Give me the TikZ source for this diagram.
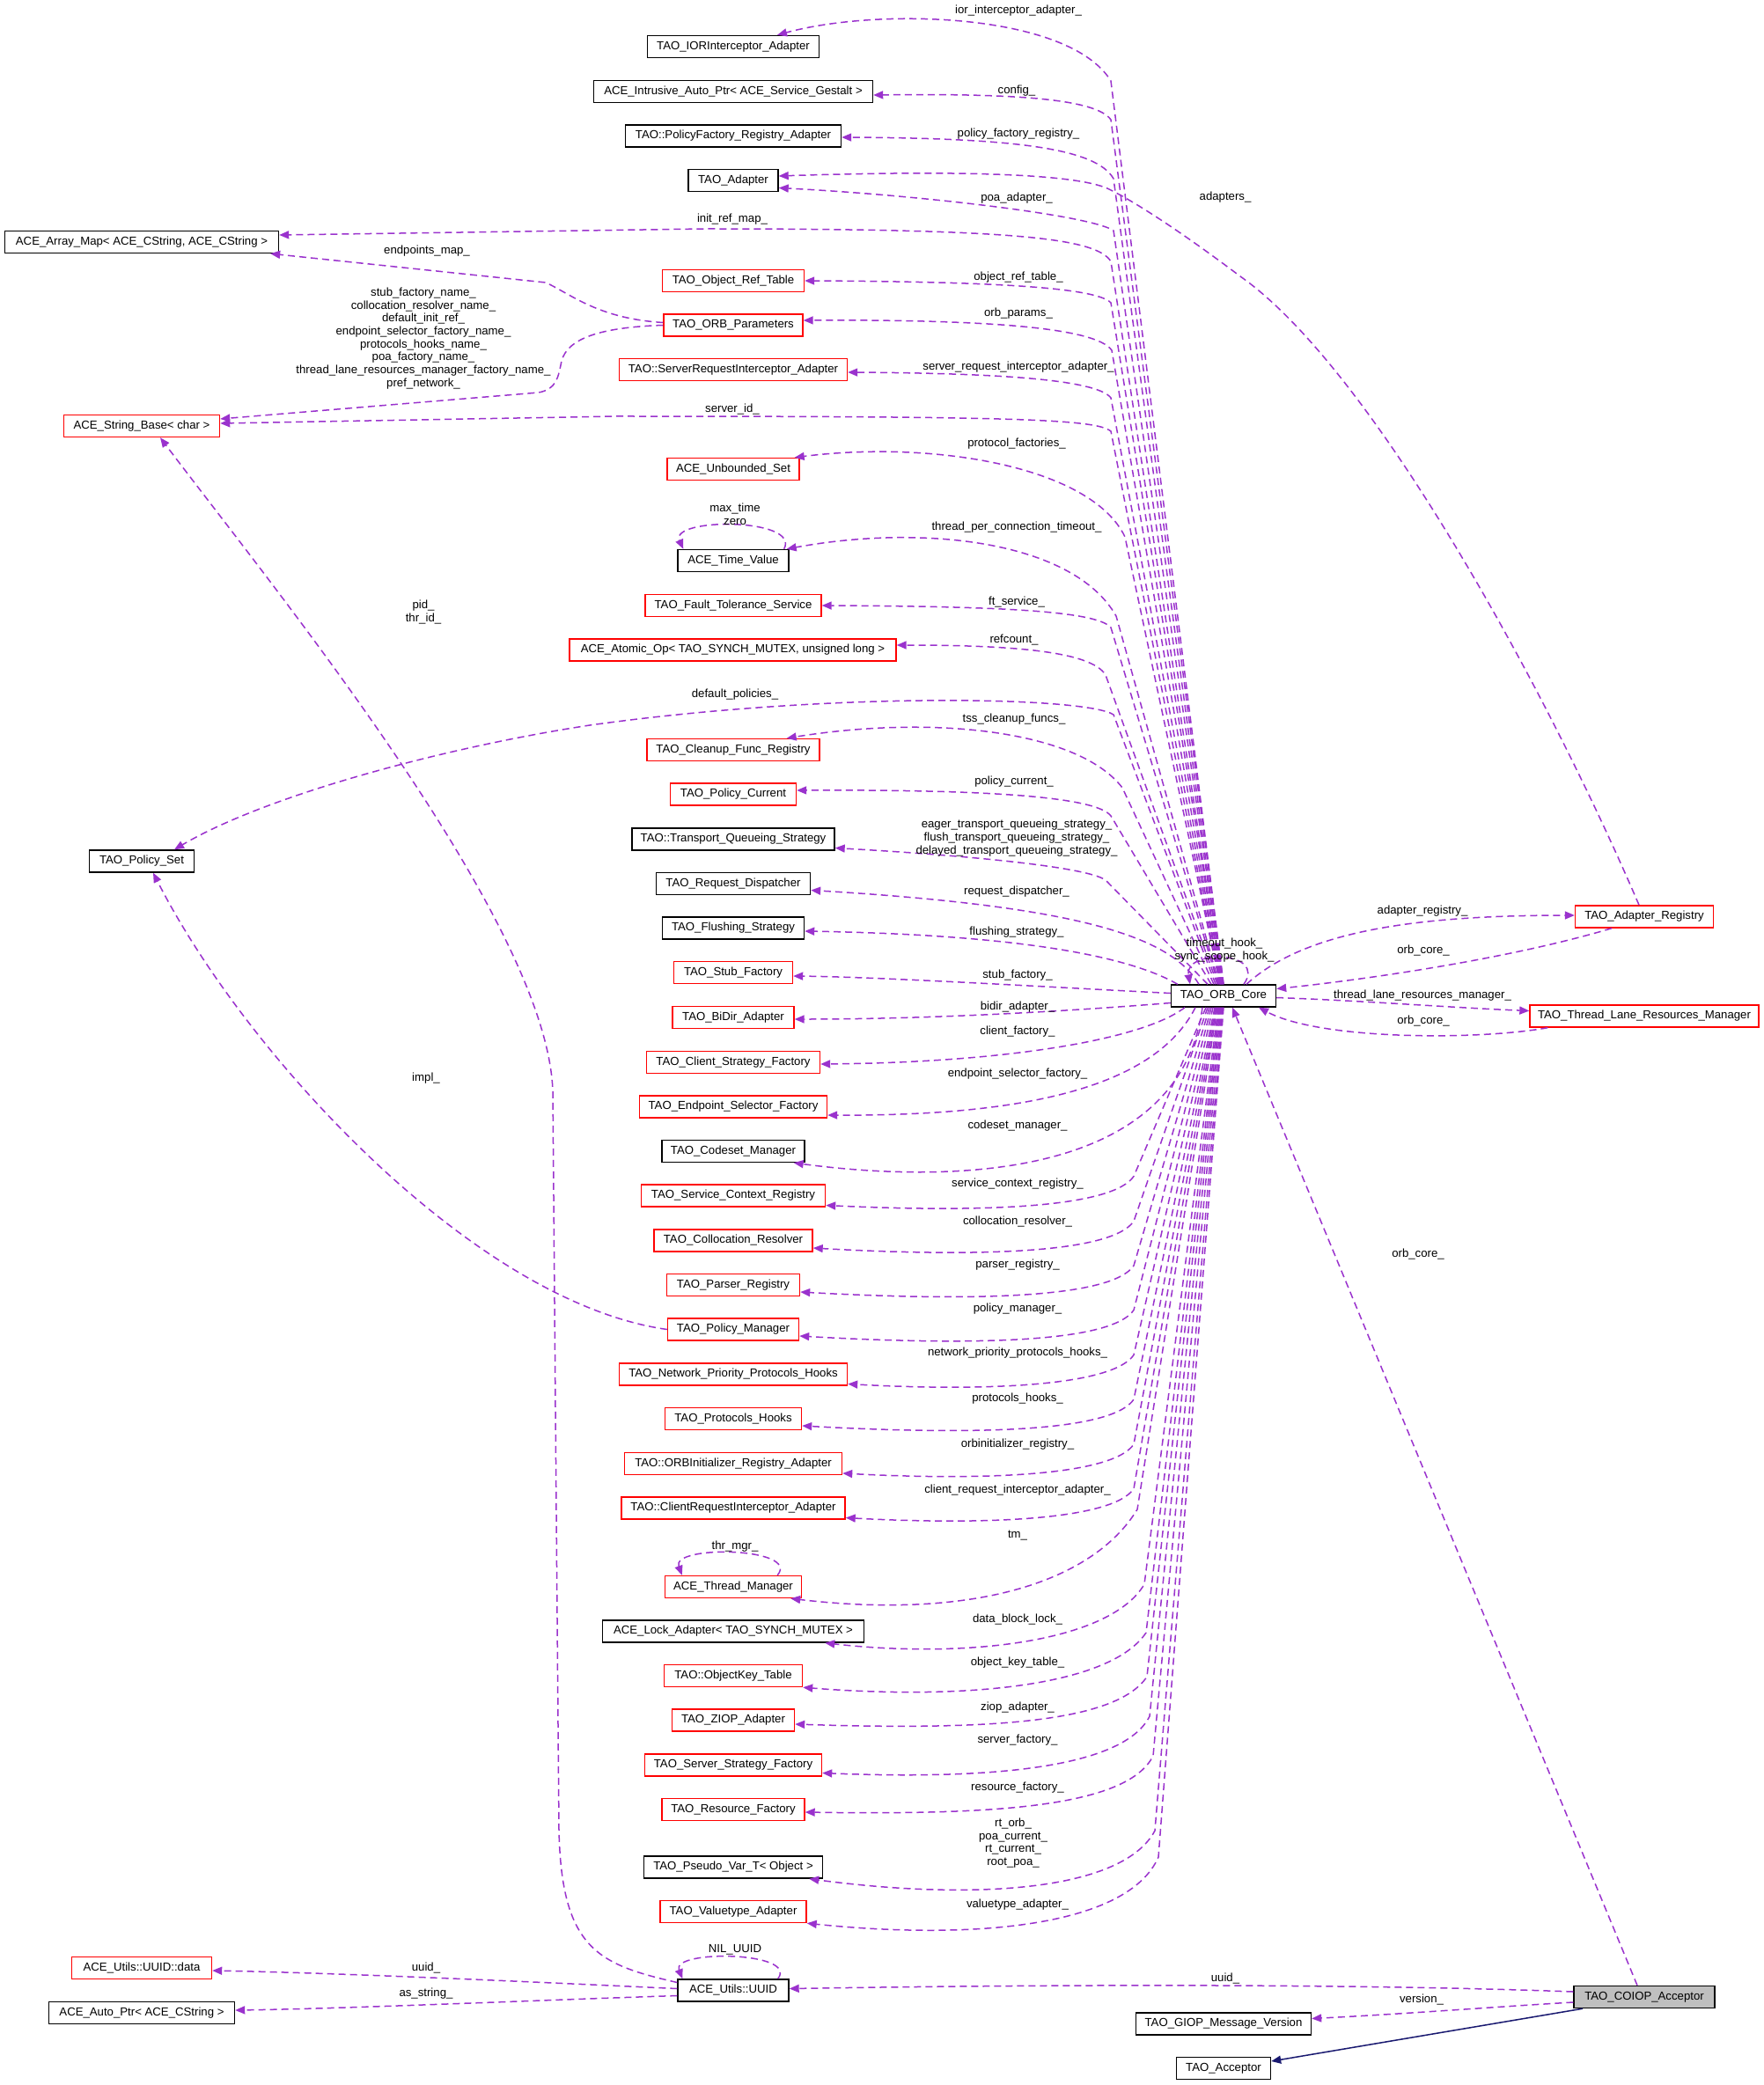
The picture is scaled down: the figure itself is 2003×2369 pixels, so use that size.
\documentclass[tikz,border=0pt]{standalone}
\usepackage{fontspec}
\setmainfont{Liberation Sans}
\usetikzlibrary{arrows.meta}
\definecolor{depc}{RGB}{154,50,205}
\definecolor{inhc}{RGB}{25,25,112}
\definecolor{boxred}{RGB}{255,0,0}
\definecolor{coiopfill}{RGB}{191,191,191}
\begin{document}
\begin{tikzpicture}[x=0.5pt,y=-0.5pt,
  every node/.style={font=\fontsize{6.6pt}{7.35pt}\selectfont},
  bx/.style={draw=black, fill=white, line width=0.7pt, minimum height=12.5pt, inner xsep=2pt, inner ysep=0pt},
  rbx/.style={bx, draw=boxred},
  lbl/.style={inner sep=0pt, align=center},
  dep/.style={draw=depc, line width=0.75pt, dash pattern=on 4pt off 2.5pt, -{Triangle[length=5.5pt,width=4.5pt,fill=depc]}},
  inh/.style={draw=inhc, line width=0.75pt, -{Triangle[length=5.5pt,width=4.5pt,fill=inhc]}}]
\fill[white] (0,0) rectangle (2003,2369);
\useasboundingbox (0,0) rectangle (2003,2369);

% ---------------- nodes ----------------
\node[bx, minimum width=97.5pt] (ior) at (833,53) {TAO\_IORInterceptor\_Adapter};
\node[bx, minimum width=158.5pt] (intr) at (833,104) {ACE\_Intrusive\_Auto\_Ptr< ACE\_Service\_Gestalt >};
\node[bx, minimum width=122.5pt] (pfr) at (833,154.5) {TAO::PolicyFactory\_Registry\_Adapter};
\node[bx, minimum width=51pt] (adapter) at (833,205) {TAO\_Adapter};
\node[bx, minimum width=155.5pt] (amap) at (161,275) {ACE\_Array\_Map< ACE\_CString, ACE\_CString >};
\node[rbx, minimum width=80.5pt] (ort) at (833,319) {TAO\_Object\_Ref\_Table};
\node[rbx, minimum width=79pt] (params) at (833,369.5) {TAO\_ORB\_Parameters};
\node[rbx, minimum width=129.5pt] (sria) at (833,420) {TAO::ServerRequestInterceptor\_Adapter};
\node[rbx, minimum width=88.5pt] (strb) at (161,484) {ACE\_String\_Base< char >};
\node[rbx, minimum width=75pt] (uset) at (833,533) {ACE\_Unbounded\_Set};
\node[bx, minimum width=63pt] (tval) at (833,637) {ACE\_Time\_Value};
\node[rbx, minimum width=100pt] (fts) at (833,688) {TAO\_Fault\_Tolerance\_Service};
\node[rbx, minimum width=185.5pt] (atom) at (832.5,738.5) {ACE\_Atomic\_Op< TAO\_SYNCH\_MUTEX, unsigned long >};
\node[rbx, minimum width=98pt] (cfr) at (833,852) {TAO\_Cleanup\_Func\_Registry};
\node[rbx, minimum width=71.5pt] (pcur) at (833,902.5) {TAO\_Policy\_Current};
\node[bx, minimum width=115pt] (tqs) at (833,953.5) {TAO::Transport\_Queueing\_Strategy};
\node[bx, minimum width=87.5pt] (rd) at (833,1004) {TAO\_Request\_Dispatcher};
\node[bx, minimum width=80.5pt] (fs) at (833,1054.5) {TAO\_Flushing\_Strategy};
\node[rbx, minimum width=67.5pt] (stub) at (833,1105) {TAO\_Stub\_Factory};
\node[bx, minimum width=59.5pt] (pset) at (161,978.5) {TAO\_Policy\_Set};
\node[rbx, minimum width=69pt] (bidir) at (833,1156) {TAO\_BiDir\_Adapter};
\node[rbx, minimum width=98.5pt] (csf) at (833,1207) {TAO\_Client\_Strategy\_Factory};
\node[rbx, minimum width=106.5pt] (esf) at (833,1257.5) {TAO\_Endpoint\_Selector\_Factory};
\node[bx, minimum width=81pt] (csm) at (833,1308) {TAO\_Codeset\_Manager};
\node[rbx, minimum width=104.5pt] (scr) at (833,1358.5) {TAO\_Service\_Context\_Registry};
\node[rbx, minimum width=90pt] (cres) at (833,1409.5) {TAO\_Collocation\_Resolver};
\node[rbx, minimum width=75.5pt] (preg) at (833,1460) {TAO\_Parser\_Registry};
\node[rbx, minimum width=74.5pt] (pman) at (833,1510.5) {TAO\_Policy\_Manager};
\node[rbx, minimum width=129.5pt] (npph) at (833,1561.5) {TAO\_Network\_Priority\_Protocols\_Hooks};
\node[rbx, minimum width=77.5pt] (ph) at (833,1612) {TAO\_Protocols\_Hooks};
\node[rbx, minimum width=123.5pt] (oira) at (833,1663) {TAO::ORBInitializer\_Registry\_Adapter};
\node[rbx, minimum width=127pt] (cria) at (833,1713.5) {TAO::ClientRequestInterceptor\_Adapter};
\node[rbx, minimum width=77.5pt] (thr) at (833,1803) {ACE\_Thread\_Manager};
\node[bx, minimum width=148.5pt] (lock) at (833,1853.5) {ACE\_Lock\_Adapter< TAO\_SYNCH\_MUTEX >};
\node[rbx, minimum width=78.5pt] (okt) at (833,1904) {TAO::ObjectKey\_Table};
\node[rbx, minimum width=69.5pt] (ziop) at (833,1954.5) {TAO\_ZIOP\_Adapter};
\node[rbx, minimum width=100.5pt] (ssf) at (833,2005.5) {TAO\_Server\_Strategy\_Factory};
\node[rbx, minimum width=81pt] (rf) at (833,2056) {TAO\_Resource\_Factory};
\node[bx, minimum width=101.5pt] (pvt) at (833,2121.5) {TAO\_Pseudo\_Var\_T< Object >};
\node[rbx, minimum width=83pt] (vta) at (833,2172) {TAO\_Valuetype\_Adapter};
\node[bx, minimum width=63pt] (uuid) at (833,2261.5) {ACE\_Utils::UUID};
\node[rbx, minimum width=79.5pt] (udata) at (161,2236) {ACE\_Utils::UUID::data};
\node[bx, minimum width=105.5pt] (aptr) at (161,2287) {ACE\_Auto\_Ptr< ACE\_CString >};
\node[bx, minimum width=59.5pt] (core) at (1390,1131.5) {TAO\_ORB\_Core};
\node[rbx, minimum width=78.5pt] (areg) at (1868,1041.5) {TAO\_Adapter\_Registry};
\node[rbx, minimum width=130pt] (tlrm) at (1868,1154.5) {TAO\_Thread\_Lane\_Resources\_Manager};
\node[bx, fill=coiopfill, minimum width=80pt] (coiop) at (1868,2269) {TAO\_COIOP\_Acceptor};
\node[bx, minimum width=99.5pt] (giop) at (1390,2299.5) {TAO\_GIOP\_Message\_Version};
\node[bx, minimum width=53.5pt] (acc) at (1390,2350) {TAO\_Acceptor};

% ---------------- upper edges from core ----------------
\draw[dep] (core.north) -- (1262,92) .. controls (1215,15) and (1000,8) .. ([xshift=25pt]ior.north);
\draw[dep] (core.north) -- (1262,136) .. controls (1245,112) and (1150,106) .. ([yshift=-2pt]intr.east);
\draw[dep] ([xshift=-0.5pt]core.north) -- (1265,203) .. controls (1245,168) and (1150,157) .. ([yshift=-0.75pt]pfr.east);
\draw[dep] ([xshift=-0.5pt]core.north) -- (1265,262) .. controls (1240,245) and (1050,222) .. ([yshift=-4.25pt]adapter.east);
\draw[dep] ([xshift=-1pt]core.north) -- (1262,297) .. controls (1245,270) and (1150,260) .. (800,260) -- ([yshift=4pt]amap.east);
\draw[dep] ([xshift=-1pt]core.north) -- (1262,344) .. controls (1245,326) and (1120,320) .. (ort.east);
\draw[dep] ([xshift=-1.5pt]core.north) -- (1263,398) .. controls (1245,372) and (1120,363) .. ([yshift=2.75pt]params.east);
\draw[dep] ([xshift=-1.5pt]core.north) -- (1262,452) .. controls (1245,430) and (1120,424) .. ([yshift=-1.5pt]sria.east);
\draw[dep] ([xshift=-2pt]core.north) -- (1262,490) .. controls (1245,476) and (1150,473) .. (700,473) -- ([yshift=1.5pt]strb.east);
\draw[dep] ([xshift=-2pt]core.north) -- (1278,610) .. controls (1240,530) and (1060,500) .. ([xshift=-3pt]uset.north east);
\draw[dep] ([xshift=-2.5pt]core.north) -- (1268,700) .. controls (1220,615) and (1050,595) .. ([xshift=-1.5pt]tval.north east);
\draw[dep] ([xshift=-3pt]core.north) -- (1262,713) .. controls (1245,693) and (1120,689) .. (fts.east);
\draw[dep] ([xshift=-3.5pt]core.north) -- (1256,767) .. controls (1240,740) and (1150,733) .. ([yshift=2.75pt]atom.east);
\draw[dep] ([xshift=-4.5pt]core.north) -- (1265,812) .. controls (1235,792) and (950,785) .. (670,824) .. controls (500,850) and (300,905) .. ([xshift=18.5pt]pset.north);
\draw[dep] ([xshift=-5.5pt]core.north) -- (1275,895) .. controls (1225,830) and (1060,812) .. ([xshift=-19pt]cfr.north east);
\draw[dep] ([xshift=-7pt]core.north) -- (1262,927) .. controls (1245,905) and (1120,897) .. ([yshift=2.25pt]pcur.east);
\draw[dep] ([xshift=-9pt]core.north) -- (1256,1000) .. controls (1235,985) and (1100,972) .. ([yshift=-5pt]tqs.east);
\draw[dep] ([xshift=-14pt]core.north) .. controls (1330,1065) and (1230,1030) .. ([yshift=-3.75pt]rd.east);
\draw[dep] ([xshift=4pt]core.north west) .. controls (1280,1085) and (1150,1062) .. ([yshift=-1.75pt]fs.east);

% ---------------- lower edges from core ----------------
\draw[dep] ([yshift=1.5pt]core.west) .. controls (1200,1122) and (1000,1110) .. ([yshift=-2pt]stub.east);
\draw[dep] ([yshift=-4pt]core.west) .. controls (1200,1150) and (1050,1158) .. ([yshift=-1pt]bidir.east);
\draw[dep] ([xshift=-22pt]core.south) .. controls (1300,1180) and (1150,1207) .. ([yshift=-1pt]csf.east);
\draw[dep] ([xshift=-16pt]core.south) .. controls (1310,1240) and (1150,1268) .. ([yshift=-4.75pt]esf.east);
\draw[dep] ([xshift=-12pt]core.south) .. controls (1340,1340) and (1080,1345) .. ([xshift=-6.5pt]csm.south east);
\draw[dep] ([xshift=-10pt]core.south) -- (1288,1336.5) .. controls (1265,1370.5) and (1130,1378.5) .. ([yshift=-5.5pt]scr.east);
\draw[dep] ([xshift=-9pt]core.south) -- (1288,1387.5) .. controls (1265,1421.5) and (1130,1429.5) .. ([yshift=-4.25pt]cres.east);
\draw[dep] ([xshift=-8pt]core.south) -- (1288,1438) .. controls (1265,1472) and (1130,1480) .. ([yshift=-4pt]preg.east);
\draw[dep] ([xshift=-7pt]core.south) -- (1288,1488.5) .. controls (1265,1522.5) and (1130,1530.5) .. ([yshift=-3.75pt]pman.east);
\draw[dep] ([xshift=-6pt]core.south) -- (1288,1539.5) .. controls (1265,1573.5) and (1130,1581.5) .. ([yshift=-5.5pt]npph.east);
\draw[dep] ([xshift=-5pt]core.south) -- (1288,1590) .. controls (1265,1624) and (1130,1632) .. ([yshift=-4pt]ph.east);
\draw[dep] ([xshift=-4.5pt]core.south) -- (1288,1641) .. controls (1265,1675) and (1130,1683) .. ([yshift=-5.5pt]oira.east);
\draw[dep] ([xshift=-4pt]core.south) -- (1288,1691.5) .. controls (1265,1725.5) and (1130,1733.5) .. ([yshift=-5.5pt]cria.east);
\draw[dep] ([xshift=-3.5pt]core.south) -- (1292,1715) .. controls (1240,1800) and (1100,1840) .. ([xshift=-6.5pt]thr.south east);
\draw[dep] ([xshift=-3pt]core.south) -- (1300,1800) .. controls (1262,1865) and (1100,1885) .. ([xshift=-22.5pt]lock.south east);
\draw[dep] ([xshift=-2.5pt]core.south) -- (1302,1855) .. controls (1262,1915) and (1100,1932) .. (okt.south east);
\draw[dep] ([xshift=-2pt]core.south) -- (1303,1905) .. controls (1268,1958) and (1120,1966) .. ([yshift=-2.25pt]ziop.east);
\draw[dep] ([xshift=-1.5pt]core.south) -- (1306,1950) .. controls (1276,2010) and (1120,2022) .. ([yshift=-4.5pt]ssf.east);
\draw[dep] ([xshift=-1pt]core.south) -- (1310,1995) .. controls (1280,2055) and (1120,2062) .. ([yshift=-1.5pt]rf.east);
\draw[dep] ([xshift=-0.5pt]core.south) -- (1312,2080) .. controls (1276,2148) and (1110,2160) .. ([xshift=-8pt]pvt.south east);
\draw[dep] (core.south) -- (1316,2110) .. controls (1282,2188) and (1110,2205) .. (vta.south east);

% ---------------- right side ----------------
\draw[dep] ([xshift=11.5pt]core.north) .. controls (1440,1080) and (1345,1078) .. ([xshift=-19pt]core.north);
\draw[dep] ([xshift=13pt]core.north) .. controls (1480,1060) and (1600,1040) .. ([yshift=0.75pt]areg.west);
\draw[dep] ([xshift=-18.5pt]areg.south) .. controls (1720,1088) and (1560,1112) .. ([yshift=4pt]core.east);
\draw[dep] ([yshift=-1pt]core.east) .. controls (1550,1137) and (1650,1145) .. ([yshift=3pt]tlrm.west);
\draw[dep] ([xshift=10.5pt]tlrm.south west) .. controls (1680,1182) and (1500,1182) .. ([xshift=20pt]core.south);
\draw[dep] ([xshift=-3pt]areg.north) .. controls (1760,790) and (1560,420) .. (1409,314) .. controls (1340,262) and (1290,230) .. (1262,216) .. controls (1230,198) and (1100,193) .. ([yshift=2.5pt]adapter.east);
\draw[dep] ([xshift=-4pt]coiop.north) -- ([xshift=5pt]core.south);

% ---------------- bottom ----------------
\draw[dep] ([yshift=3pt]coiop.west) .. controls (1600,2256) and (1300,2253) .. ([yshift=1pt]uuid.east);
\draw[dep] ([yshift=-3pt]coiop.west) .. controls (1700,2280) and (1600,2288) .. ([yshift=3pt]giop.east);
\draw[inh] ([xshift=-35pt]coiop.south) -- ([yshift=4pt]acc.east);
\draw[dep] ([yshift=1pt]uuid.west) .. controls (650,2254) and (400,2242) .. ([yshift=-1.5pt]udata.east);
\draw[dep] ([yshift=-3pt]uuid.west) .. controls (600,2273) and (400,2282) .. ([yshift=1.5pt]aptr.east);
\draw[dep] ([yshift=4.5pt]uuid.west) .. controls (680,2232) and (638,2215) .. (635,2080) -- (628,1240) .. controls (622,1050) and (320,680) .. ([xshift=10.5pt]strb.south);
\draw[dep] (pman.west) .. controls (540,1480) and (280,1200) .. ([xshift=6.5pt]pset.south);
\draw[dep] ([yshift=1.5pt]params.west) .. controls (680,362) and (650,335) .. (620,321) -- ([xshift=-5pt]amap.south east);
\draw[dep] (params.west) .. controls (680,372) and (645,385) .. (638,410) .. controls (634,430) and (632,442) .. (612,446) -- ([yshift=4pt]strb.east);

% ---------------- self loops ----------------
\draw[dep] ([xshift=-3pt]tval.north east) .. controls (910,588) and (760,588) .. ([xshift=3.5pt]tval.north west);
\draw[dep] ([xshift=-14pt]thr.north east) .. controls (910,1758) and (762,1755) .. ([xshift=10pt]thr.north west);
\draw[dep] ([xshift=-6.5pt]uuid.north east) .. controls (908,2217) and (762,2215) .. ([xshift=3pt]uuid.north west);

% ---------------- labels ----------------
\node[lbl] (l1) at (1157,12) {ior\_interceptor\_adapter\_};
\node[lbl] (l2) at (1155,103) {config\_};
\node[lbl] (l3) at (1157,152) {policy\_factory\_registry\_};
\node[lbl] (l4) at (1155,225) {poa\_adapter\_};
\node[lbl] (l5) at (1392,224) {adapters\_};
\node[lbl] (l6) at (832,249) {init\_ref\_map\_};
\node[lbl] (l7) at (485,285) {endpoints\_map\_};
\node[lbl] (l8) at (1157,315) {object\_ref\_table\_};
\node[lbl] (l9) at (1157,356) {orb\_params\_};
\node[lbl] (l10) at (1157,417) {server\_request\_interceptor\_adapter\_};
\node[lbl] (l11) at (481,384.5) {stub\_factory\_name\_\\collocation\_resolver\_name\_\\default\_init\_ref\_\\endpoint\_selector\_factory\_name\_\\protocols\_hooks\_name\_\\poa\_factory\_name\_\\thread\_lane\_resources\_manager\_factory\_name\_\\pref\_network\_};
\node[lbl] (l12) at (832,465) {server\_id\_};
\node[lbl] (l13) at (1155,504) {protocol\_factories\_};
\node[lbl] (l14) at (835,584.5) {max\_time\\zero};
\node[lbl] (l15) at (1155,599) {thread\_per\_connection\_timeout\_};
\node[lbl] (l16) at (1155,684) {ft\_service\_};
\node[lbl] (l17) at (481,695.5) {pid\_\\thr\_id\_};
\node[lbl] (l18) at (1152,727) {refcount\_};
\node[lbl] (l19) at (835,789) {default\_policies\_};
\node[lbl] (l20) at (1152,817) {tss\_cleanup\_funcs\_};
\node[lbl] (l21) at (1152,888) {policy\_current\_};
\node[lbl] (l22) at (1155,952) {eager\_transport\_queueing\_strategy\_\\flush\_transport\_queueing\_strategy\_\\delayed\_transport\_queueing\_strategy\_};
\node[lbl] (l23) at (1155,1013) {request\_dispatcher\_};
\node[lbl] (l24) at (1155,1059) {flushing\_strategy\_};
\node[lbl] (l25) at (1156,1108) {stub\_factory\_};
\node[lbl] (l26) at (1156,1144) {bidir\_adapter\_};
\node[lbl] (l27) at (1156,1172) {client\_factory\_};
\node[lbl] (l28) at (1156,1220) {endpoint\_selector\_factory\_};
\node[lbl] (l29) at (1156,1279) {codeset\_manager\_};
\node[lbl] (l30) at (1156,1345) {service\_context\_registry\_};
\node[lbl] (l31) at (1156,1388) {collocation\_resolver\_};
\node[lbl] (l32) at (1156,1437) {parser\_registry\_};
\node[lbl] (l33) at (1156,1487) {policy\_manager\_};
\node[lbl] (l34) at (1156,1537) {network\_priority\_protocols\_hooks\_};
\node[lbl] (l35) at (1156,1589) {protocols\_hooks\_};
\node[lbl] (l36) at (1156,1641) {orbinitializer\_registry\_};
\node[lbl] (l37) at (1156,1693) {client\_request\_interceptor\_adapter\_};
\node[lbl] (l38) at (1156,1745) {tm\_};
\node[lbl] (l39) at (835,1757) {thr\_mgr\_};
\node[lbl] (l40) at (1156,1840) {data\_block\_lock\_};
\node[lbl] (l41) at (1156,1889) {object\_key\_table\_};
\node[lbl] (l42) at (1156,1940) {ziop\_adapter\_};
\node[lbl] (l43) at (1156,1977) {server\_factory\_};
\node[lbl] (l44) at (1156,2031) {resource\_factory\_};
\node[lbl] (l45) at (1151,2094) {rt\_orb\_\\poa\_current\_\\rt\_current\_\\root\_poa\_};
\node[lbl] (l46) at (1156,2164) {valuetype\_adapter\_};
\node[lbl] (l47) at (835,2215) {NIL\_UUID};
\node[lbl] (l48) at (484,2236) {uuid\_};
\node[lbl] (l49) at (484,2265) {as\_string\_};
\node[lbl] (l50) at (1392,2248) {uuid\_};
\node[lbl] (l51) at (1615,2272) {version\_};
\node[lbl] (l52) at (1391,1079.5) {timeout\_hook\_\\sync\_scope\_hook\_};
\node[lbl] (l53) at (1616,1035) {adapter\_registry\_};
\node[lbl] (l54) at (1617,1080) {orb\_core\_};
\node[lbl] (l55) at (1616,1131) {thread\_lane\_resources\_manager\_};
\node[lbl] (l56) at (1617,1160) {orb\_core\_};
\node[lbl] (l57) at (1611,1425) {orb\_core\_};
\node[lbl] (l58) at (484,1225) {impl\_};
\end{tikzpicture}
\end{document}
